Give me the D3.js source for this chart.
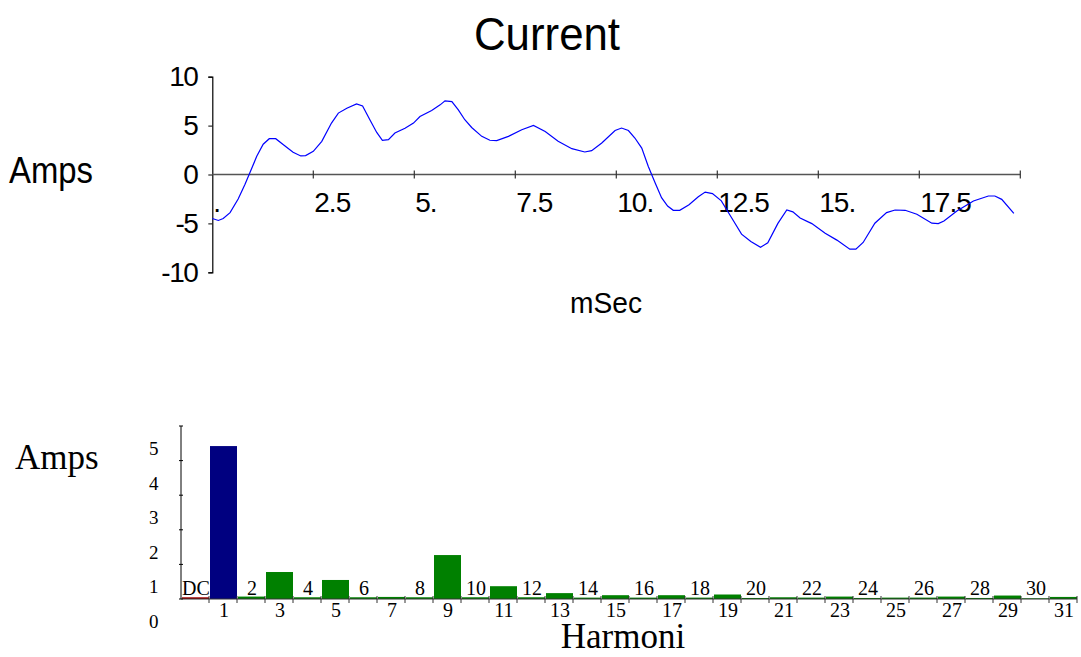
<!DOCTYPE html>
<html>
<head>
<meta charset="utf-8">
<script src="https://cdn.jsdelivr.net/npm/d3@7"></script>
<style>
  html, body { margin: 0; padding: 0; background: #fff; }
  svg { display: block; }
</style>
</head>
<body>
<svg id="chart" width="1081" height="657"></svg>
<script>
// ---------- DATA ----------
// Current waveform (time in mSec, current in Amps)
const timeMs = [0,0.15,0.27,0.44,0.64,0.81,0.93,1.1,1.26,1.41,1.57,1.76,2.0,2.19,2.31,2.5,2.71,2.95,3.12,3.33,3.57,3.72,3.9,4.07,4.21,4.36,4.52,4.77,4.98,5.14,5.43,5.64,5.76,5.93,6.09,6.25,6.42,6.67,6.87,7.04,7.33,7.66,7.95,8.24,8.56,8.9,9.22,9.39,9.64,9.97,10.13,10.3,10.46,10.63,10.79,10.96,11.12,11.27,11.41,11.57,11.8,12.03,12.2,12.38,12.6,12.85,13.1,13.33,13.57,13.75,14.0,14.22,14.37,14.55,14.84,15.17,15.46,15.78,15.93,16.11,16.4,16.69,16.9,17.15,17.44,17.81,17.97,18.11,18.43,18.84,19.21,19.37,19.54,19.84];
const currentAmps = [-4.5,-4.7,-4.5,-3.9,-2.5,-1.0,0.17,1.86,3.1,3.66,3.66,3.05,2.27,1.9,1.93,2.37,3.39,5.26,6.28,6.78,7.22,7.0,5.6,4.3,3.5,3.56,4.24,4.72,5.26,5.93,6.54,7.12,7.53,7.46,6.6,5.6,4.81,3.9,3.5,3.46,3.9,4.58,5.02,4.4,3.39,2.64,2.3,2.44,3.22,4.5,4.75,4.5,3.73,2.7,0.85,-0.85,-2.37,-3.22,-3.66,-3.66,-3.1,-2.27,-1.8,-1.95,-2.7,-4.4,-6.1,-6.85,-7.44,-6.98,-5.0,-3.63,-3.82,-4.45,-5.02,-6.0,-6.71,-7.63,-7.63,-6.95,-4.98,-3.9,-3.63,-3.66,-4.07,-4.98,-5.02,-4.75,-3.73,-2.71,-2.2,-2.2,-2.54,-3.97];
const xTickValues = [0,2.5,5,7.5,10,12.5,15,17.5,20];
const xTickLabels = [".","2.5","5.","7.5","10.","12.5","15.","17.5",""];
const yTickValues = [-10,-5,0,5,10];
const yTickLabels = ["-10","-5","0","5","10"];

// Harmonic spectrum
const harmonics = ["DC","1","2","3","4","5","6","7","8","9","10","11","12","13","14","15","16","17","18","19","20","21","22","23","24","25","26","27","28","29","30","31"];
const harmonicAmps = [0.05,4.42,0.07,0.78,0.05,0.55,0.05,0.06,0.05,1.27,0.05,0.37,0.05,0.17,0.04,0.11,0.04,0.11,0.04,0.13,0.03,0.05,0.04,0.07,0.03,0.04,0.04,0.07,0.03,0.1,0.02,0.06];
const hTickValues = [0,1,2,3,4,5];
const hTickLabels = ["0","1","2","3","4","5"];

// ---------- DRAW ----------
const svg = d3.select("#chart");
const sans = "'Liberation Sans', Arial, sans-serif";
const serif = "'Liberation Serif', 'Times New Roman', serif";

// Top chart scales
const x = d3.scaleLinear().domain([0, 20]).range([212.3, 1020.3]);
const y = d3.scaleLinear().domain([-10, 10]).range([272.3, 76.7]);

// Title
svg.append("text").attr("x", 547).attr("y", 50).attr("text-anchor", "middle")
  .attr("font-family", sans).attr("font-size", 46)
  .attr("textLength", 146).attr("lengthAdjust", "spacingAndGlyphs")
  .text("Current");

// Y axis (top)
const yAxis = d3.axisLeft(y).tickValues(yTickValues)
  .tickFormat((d, i) => yTickLabels[i]).tickSize(4).tickPadding(11);
const gy = svg.append("g").attr("transform", `translate(${x(0)},0)`).call(yAxis);
gy.select(".domain").attr("stroke", "#000").attr("stroke-width", 1.2);
gy.selectAll(".tick line").attr("stroke", "#000");
gy.selectAll(".tick text").attr("font-family", sans).attr("font-size", 28)
  .attr("letter-spacing", -1.5).attr("fill", "#000");

// X axis (top) at y=0
const gx = svg.append("g");
gx.append("line").attr("x1", x(0)).attr("x2", x(20)).attr("y1", y(0)).attr("y2", y(0))
  .attr("stroke", "#555").attr("stroke-width", 1.5);
gx.selectAll("line.tk").data(xTickValues.slice(1)).join("line").attr("class", "tk")
  .attr("x1", d => x(d)).attr("x2", d => x(d))
  .attr("y1", y(0) - 4).attr("y2", y(0) + 4).attr("stroke", "#333").attr("stroke-width", 1.2);
gx.selectAll("text").data(xTickValues).join("text")
  .attr("x", d => x(d) + 1).attr("y", 212)
  .attr("font-family", sans).attr("font-size", 28).attr("letter-spacing", -1).attr("fill", "#000")
  .text((d, i) => xTickLabels[i]);

// Axis titles (top)
svg.append("text").attr("x", 9).attr("y", 183)
  .attr("font-family", sans).attr("font-size", 36)
  .attr("textLength", 84).attr("lengthAdjust", "spacingAndGlyphs").text("Amps");
svg.append("text").attr("x", 570).attr("y", 313)
  .attr("font-family", sans).attr("font-size", 29)
  .attr("textLength", 72).attr("lengthAdjust", "spacingAndGlyphs").text("mSec");

// Line
const pts = timeMs.map((t, i) => [t, currentAmps[i]]);
svg.append("path").datum(pts)
  .attr("fill", "none").attr("stroke", "#0000ff").attr("stroke-width", 1.2)
  .attr("d", d3.line().x(d => x(d[0])).y(d => y(d[1])));

// ---------- Bottom chart ----------
const xb = d3.scaleBand().domain(harmonics).range([181, 1077]).padding(0);
const yb = d3.scaleLinear().domain([0, 5]).range([599, 426]);

const colorFor = h => h === "DC" ? "#a00000" : (h === "1" ? "#000080" : "#008000");

svg.append("g").selectAll("rect").data(harmonics).join("rect")
  .attr("x", d => xb(d) + 1).attr("width", xb.bandwidth() - 1)
  .attr("y", (d, i) => yb(harmonicAmps[i]))
  .attr("height", (d, i) => yb(0) - yb(harmonicAmps[i]))
  .attr("fill", d => colorFor(d));

// Y axis bottom
const gyb = svg.append("g");
gyb.append("line").attr("x1", 181).attr("x2", 181).attr("y1", yb(5)).attr("y2", yb(0))
  .attr("stroke", "#000").attr("stroke-width", 1);
gyb.selectAll("line.tk").data(hTickValues).join("line").attr("class", "tk")
  .attr("x1", 179).attr("x2", 183).attr("y1", d => yb(d)).attr("y2", d => yb(d))
  .attr("stroke", "#000");
gyb.selectAll("text").data(hTickValues).join("text")
  .attr("x", 149).attr("y", d => yb(d) + 29)
  .attr("font-family", serif).attr("font-size", 19).attr("fill", "#000")
  .text((d, i) => hTickLabels[i]);

// X axis bottom
const gxb = svg.append("g");
gxb.append("line").attr("x1", 181).attr("x2", 1077).attr("y1", yb(0)).attr("y2", yb(0))
  .attr("stroke", "#333").attr("stroke-width", 1);
gxb.selectAll("line.tk").data(harmonics.slice(1)).join("line").attr("class", "tk")
  .attr("x1", d => xb(d)).attr("x2", d => xb(d))
  .attr("y1", yb(0) - 3).attr("y2", yb(0) + 4).attr("stroke", "#333");
gxb.append("line").attr("x1", 1077).attr("x2", 1077).attr("y1", yb(0) - 3).attr("y2", yb(0) + 4).attr("stroke", "#333");
gxb.selectAll("text").data(harmonics).join("text")
  .attr("x", d => xb(d) + xb.bandwidth() / 2 + 1)
  .attr("y", (d, i) => i % 2 === 0 ? 595 : 617)
  .attr("text-anchor", "middle")
  .attr("font-family", serif).attr("font-size", 20).attr("fill", "#000")
  .text(d => d);

// Axis titles bottom
svg.append("text").attr("x", 15).attr("y", 469)
  .attr("font-family", serif).attr("font-size", 35).text("Amps");
svg.append("text").attr("x", 623).attr("y", 648).attr("text-anchor", "middle")
  .attr("font-family", serif).attr("font-size", 35).text("Harmoni");
</script>
</body>
</html>
